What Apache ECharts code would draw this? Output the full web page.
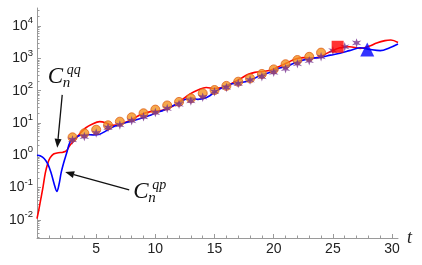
<!DOCTYPE html>
<html><head><meta charset="utf-8">
<script src="https://cdn.jsdelivr.net/npm/echarts@6/dist/echarts.min.js"></script>
<style>html,body{margin:0;padding:0;background:#fff}#c{width:422px;height:265px}</style>
</head><body><div id="c"></div>
<script>
// ---- data (y is plotted on a log10 scale) ----
const redT  = [0,0.15,0.3,0.5,0.7,0.9,1.1,1.4,1.8,2.2,2.5,2.8,3.2,3.65,4.1,4.6,5.3,5.8,6.4,7.0,7.6,8.2,8.7,9.6,10.4,11.0,11.6,12.1,12.9,13.6,14.3,15.0,15.5,16.0,16.6,17.2,17.8,18.4,19.1,19.7,20.3,21.1,21.9,22.6,23.3,23.9,24.4,24.9,25.6,26.4,27.3,28.1,28.7,29.4,29.9,30.5];
const redV  = [0.011,0.02,0.04,0.1,0.28,0.55,0.83,1.1,1.2,1.25,1.4,2.1,3.0,4.8,7.0,9.0,11,10.2,8.5,9.2,11,14,17.8,22.5,24,27,35,47,78,105,126,117,122,135,180,235,315,370,395,430,530,720,980,1060,1010,1120,1380,1700,2140,2290,2040,2400,3000,3550,3700,3100];
const blueT = [0,0.3,0.6,0.9,1.2,1.45,1.68,1.85,2.05,2.25,2.5,2.8,3.2,3.6,4.2,4.75,5.3,5.8,6.5,7.0,7.6,8.2,8.8,9.5,10.1,10.7,11.4,12.0,12.6,13.1,13.6,14.1,14.6,15.2,15.8,16.3,17.0,17.6,18.2,18.9,19.7,20.5,21.4,22.2,23.1,23.9,24.8,25.6,26.4,27.3,28.1,29.0,29.8,30.5];
const blueV = [1.0,0.95,0.8,0.55,0.28,0.13,0.076,0.12,0.3,0.58,1.15,2.6,3.4,4.1,4.4,4.3,4.5,5.6,7.8,9.0,10.5,12,14,17,21,25,33,42,55,59,54,57,70,100,135,158,172,190,225,300,370,500,630,830,1000,1070,1260,1450,1740,2140,1900,1740,2140,2800];
const circleT = [3,4,5,6,7,8,9,10,11,12,13,14,15,16,17,18,19,20,21,22,23,24];
const circleV = [3.6,4.8,6.2,8.5,11,15,20,26,35,45,58,83,105,141,190,240,330,457,660,890,1120,1510];
const starT = [3,4,5,6,7,8,9,10,11,12,13,14,15,16,17,18,19,20,21,22,23,24,25,26,27];
const starV = [3.0,3.8,4.9,7.2,8.7,11.7,15.5,21,28,38,48,63,93,126,166,214,270,370,480,680,850,1120,1740,2290,3020];
const squarePoint = [25.4, 2290];
const trianglePoint = [27.9, 1900];
const xTickLabels = [5,10,15,20,25,30];
const yTickExponents = [-2,-1,0,1,2,3,4];

// ---- helpers ----
const L = v => Math.log10(v);
const pairs = (ts, vs) => ts.map((t, i) => [t, L(vs[i])]);
const yMin = -2.56, yMax = 4.56;
const minorY = [];
for (let n = -3; n <= 4; n++) for (let k = 2; k <= 9; k++) { const v = n + Math.log10(k); if (v > yMin && v < yMax) minorY.push(v); }
const minorX = [];
for (let i = 1; i <= 30; i++) if (i % 5) minorX.push(i);

function starPath() {
  const pts = [];
  for (let i = 0; i < 12; i++) {
    const a = -Math.PI / 2 + i * Math.PI / 6, r = i % 2 ? 0.38 : 1;
    pts.push((50 + 50 * r * Math.cos(a)).toFixed(1) + ',' + (50 + 50 * r * Math.sin(a)).toFixed(1));
  }
  return 'path://M' + pts.join('L') + 'Z';
}

const axisGrey = '#9a9a9a';
const labelFont = '"Liberation Sans", Arial, sans-serif';
const chart = echarts.init(document.getElementById('c'), null, {renderer: 'canvas'});

chart.setOption({
  animation: false,
  backgroundColor: '#fff',
  grid: {left: 37, top: 8, right: 24, bottom: 27, containLabel: false},
  xAxis: [{
    type: 'value', min: 0, max: 30.5, position: 'bottom',
    axisLine: {onZero: false, lineStyle: {color: axisGrey, width: 1}},
    axisTick: {inside: true, length: 4, customValues: xTickLabels, lineStyle: {color: axisGrey}},
    axisLabel: {customValues: xTickLabels, margin: 4, fontSize: 14, color: '#222', fontFamily: labelFont},
    splitLine: {show: false},
    name: 't', nameLocation: 'end', nameGap: 9,
    nameTextStyle: {fontFamily: '"Liberation Serif", "Times New Roman", serif', fontStyle: 'italic', fontSize: 18, color: '#222', verticalAlign: 'middle'}
  }, {
    type: 'value', min: 0, max: 30.5, position: 'bottom',
    axisLine: {show: false, onZero: false},
    axisTick: {inside: true, length: 2.5, customValues: minorX, lineStyle: {color: axisGrey}},
    axisLabel: {show: false}, splitLine: {show: false}
  }],
  yAxis: [{
    type: 'value', min: yMin, max: yMax, position: 'left',
    axisLine: {show: true, onZero: false, lineStyle: {color: axisGrey, width: 1}},
    axisTick: {show: true, inside: true, length: 4, customValues: yTickExponents, lineStyle: {color: axisGrey}},
    axisLabel: {
      customValues: yTickExponents, margin: 4, color: '#222',
      formatter: v => '{b|10}{s|' + Math.round(v) + '}',
      rich: {
        b: {fontSize: 14, fontFamily: labelFont, color: '#222', lineHeight: 21, verticalAlign: 'middle'},
        s: {fontSize: 9.5, fontFamily: labelFont, color: '#222', lineHeight: 9, verticalAlign: 'top'}
      }
    },
    splitLine: {show: false}
  }, {
    type: 'value', min: yMin, max: yMax, position: 'left',
    axisLine: {show: false, onZero: false},
    axisTick: {show: true, inside: true, length: 2.5, customValues: minorY, lineStyle: {color: axisGrey}},
    axisLabel: {show: false}, splitLine: {show: false}
  }],
  series: [
    {type: 'line', name: 'Cqq', data: pairs(redT, redV), smooth: 0.35, showSymbol: false,
     lineStyle: {color: '#ff0000', width: 1.6}, z: 2},
    {type: 'line', name: 'Cqp', data: pairs(blueT, blueV), smooth: 0.35, showSymbol: false,
     lineStyle: {color: '#0000ff', width: 1.6}, z: 2},
    {type: 'scatter', data: pairs(circleT, circleV), symbol: 'circle', symbolSize: 9,
     itemStyle: {color: '#f3921f', borderColor: '#e0601a', borderWidth: 1}, z: 3},
    {type: 'scatter', data: pairs(starT, starV), symbol: starPath(), symbolSize: 9.5,
     itemStyle: {color: '#76308f'}, z: 4},
    {type: 'scatter', data: [[squarePoint[0], L(squarePoint[1])]], symbol: 'rect', symbolSize: 12,
     itemStyle: {color: '#ff0000'}, z: 5},
    {type: 'scatter', data: [[trianglePoint[0], L(trianglePoint[1])]], symbol: 'triangle', symbolSize: 14,
     itemStyle: {color: '#0000ff'}, z: 5}
  ]
});

// ---- annotations, anchored in data coordinates ----
const annQQ = {text: [1.33, 2.44], tail: [2.13, 1.87], head: [1.71, 0.23], sup: 'qq'};
const annQP = {text: [8.55, -1.12], tail: [7.79, -1.07], head: [2.38, -0.52], sup: 'qp'};
const px = p => chart.convertToPixel({gridIndex: 0}, p);
const serif = '"Liberation Serif", "Times New Roman", serif';

function arrow(a) {
  const t = px(a.tail), h = px(a.head);
  const dx = h[0] - t[0], dy = h[1] - t[1], len = Math.hypot(dx, dy);
  const ux = dx / len, uy = dy / len, hl = 9, hw = 3.5;
  const bx = h[0] - ux * hl, by = h[1] - uy * hl;
  return [
    {type: 'line', shape: {x1: t[0], y1: t[1], x2: bx, y2: by}, style: {stroke: '#111', lineWidth: 1.3}, z: 10},
    {type: 'polygon', shape: {points: [[h[0], h[1]], [bx - uy * hw, by + ux * hw], [bx + uy * hw, by - ux * hw]]},
     style: {fill: '#111'}, z: 10}
  ];
}
function label(a) {
  const c = px(a.text);
  const base = {fontFamily: serif, fontStyle: 'italic', fill: '#111', textVerticalAlign: 'middle', textAlign: 'left'};
  return [
    {type: 'text', x: c[0] - 5, y: c[1], style: Object.assign({text: 'C', fontSize: 23}, base), z: 10},
    {type: 'text', x: c[0] + 10, y: c[1] + 7, style: Object.assign({text: 'n', fontSize: 15}, base), z: 10},
    {type: 'text', x: c[0] + 14, y: c[1] - 6, style: Object.assign({text: a.sup, fontSize: 14}, base), z: 10}
  ];
}
chart.setOption({graphic: [].concat(arrow(annQQ), label(annQQ), arrow(annQP), label(annQP))});
</script>
</body></html>
